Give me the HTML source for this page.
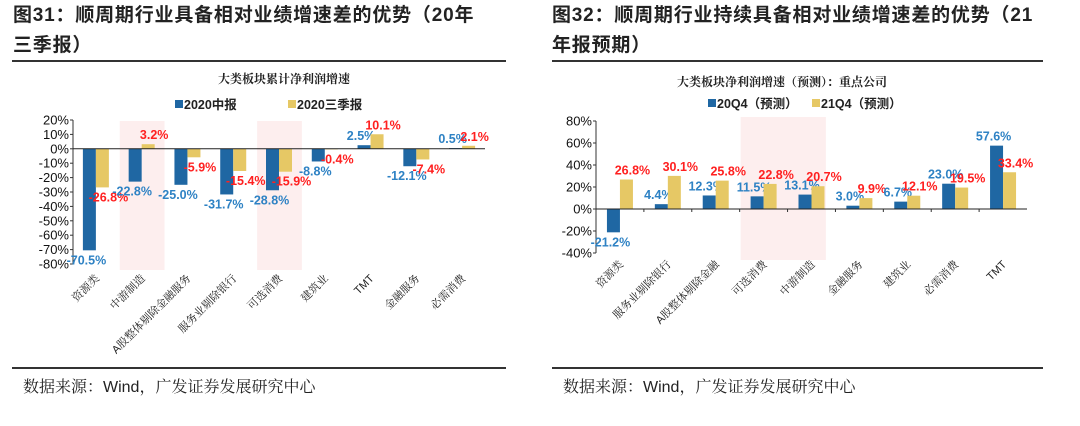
<!DOCTYPE html>
<html><head><meta charset="utf-8"><style>
body{margin:0;width:1080px;height:426px;background:#fff;overflow:hidden;font-family:"Liberation Sans","Noto Sans CJK SC",sans-serif;}
.t{position:absolute;font-weight:bold;font-size:19px;line-height:30px;color:#222;letter-spacing:0.8px;}
.src{position:absolute;font-size:16px;color:#222;font-family:"Liberation Sans","Noto Serif CJK SC",serif;}
.ln{position:absolute;height:2px;background:#333;}
</style></head><body>
<div class="t" style="left:13px;top:1px;width:495px">图31：顺周期行业具备相对业绩增速差的优势（20年<br>三季报）</div>
<div class="t" style="left:552px;top:1px;width:495px">图32：顺周期行业持续具备相对业绩增速差的优势（21<br>年报预期）</div>
<div class="ln" style="left:12px;top:60px;width:494px"></div>
<div class="ln" style="left:552px;top:60px;width:491px"></div>
<div class="ln" style="left:12px;top:367px;width:494px"></div>
<div class="ln" style="left:552px;top:367px;width:491px"></div>
<div class="src" style="left:23px;top:374px">数据来源：Wind，广发证券发展研究中心</div>
<div class="src" style="left:563px;top:374px">数据来源：Wind，广发证券发展研究中心</div>
<svg id="s" width="1080" height="426" style="position:absolute;left:0;top:0"></svg>
<script>
const catsL=["资源类","中游制造","A股整体剔除金融服务","服务业剔除银行","可选消费","建筑业","TMT","金融服务","必需消费"];
const blueL=[-70.5,-22.8,-25.0,-31.7,-28.8,-8.8,2.5,-12.1,0.5];
const yellowL=[-26.8,3.2,-5.9,-15.4,-15.9,-0.4,10.1,-7.4,2.1];
const ticksL=[20,10,0,-10,-20,-30,-40,-50,-60,-70,-80];
const catsR=["资源类","服务业剔除银行","A股整体剔除金融","可选消费","中游制造","金融服务","建筑业","必需消费","TMT"];
const blueR=[-21.2,4.4,12.3,11.5,13.1,3.0,6.7,23.0,57.6];
const yellowR=[26.8,30.1,25.8,22.8,20.7,9.9,12.1,19.5,33.4];
const ticksR=[80,60,40,20,0,-20,-40];
const S=document.getElementById('s');const NS="http://www.w3.org/2000/svg";
function mk(t,a,txt){const e=document.createElementNS(NS,t);for(const k in a)e.setAttribute(k,a[k]);if(txt!==undefined)e.textContent=txt;S.appendChild(e);return e;}
function chart(o){
 const y=v=>o.y0+(o.top-v)*(o.y1-o.y0)/(o.top-o.bot);
 const n=o.cats.length,cw=(o.xr-o.xl)/n;
 o.hl.forEach(h=>{const r=mk('rect',{x:o.xl+h[0]*cw+1,y:o.hy0,width:cw*h[1]-1,height:o.hy1-o.hy0,fill:'#fdeeee'});
 });
 const tt=mk('text',{x:o.tx,y:o.ty,'font-size':12,'font-weight':'bold','text-anchor':'middle',fill:'#222','font-family':'"Noto Serif CJK SC",serif'},o.title);
 
 o.legend.forEach((l,i)=>{const g=mk('rect',{x:l[0],y:o.ly-9,width:8,height:8,fill:i?'#e6c865':'#1f67a3'});
 
 const t=mk('text',{x:l[0]+9,y:o.ly,'font-size':12.5,'font-weight':'bold',fill:'#222'},l[1]);
 });
 o.ticks.forEach(v=>{const t=mk('text',{x:o.xl-4,y:y(v)+4.5,'font-size':13,'text-anchor':'end',fill:'#111'},v+'%');
 
 mk('line',{x1:o.xl-3,x2:o.xl,y1:y(v),y2:y(v),stroke:'#333'});});
 mk('line',{x1:o.xl,x2:o.xl,y1:y(o.top),y2:y(o.bot),stroke:'#333'});
 const bw=13;
 o.cats.forEach((c,i)=>{const cx=o.xl+(i+0.5)*cw;
  [[o.b[i],cx-bw,'#1f67a3','#2e82c4'],[o.yv[i],cx,'#e6c865','#ff2020']].forEach((s,j)=>{
   const v=s[0],y0=y(0),yv=y(v);
   const r=mk('rect',{x:s[1],y:Math.min(y0,yv),width:bw,height:Math.abs(yv-y0),fill:s[2]});
   
   const ly=v>=0?yv-5:yv+14;
   const t=mk('text',{x:s[1]+bw/2+(j?6:-3),y:ly,'font-size':12.5,'font-weight':'bold','text-anchor':'middle',fill:s[3]},v.toFixed(1)+'%');
   });
  const lx=cx+4,lyy=o.labY;
  const t=mk('text',{x:lx,y:lyy,'font-size':11,'text-anchor':'end',fill:'#222',transform:`rotate(-45 ${lx} ${lyy})`,'font-family':'"Liberation Sans","Noto Serif CJK SC",serif'},c);
  
  if(o.xt)mk('line',{x1:o.xl+i*cw,x2:o.xl+i*cw,y1:y(0),y2:y(0)+3,stroke:'#333'});
 });
 mk('line',{x1:o.xl,x2:o.xr,y1:y(0),y2:y(0),stroke:'#222'});
}
chart({cats:catsL,b:blueL,yv:yellowL,ticks:ticksL,top:20,bot:-80,y0:120,y1:264,xl:73,xr:485,hl:[[1,1],[4,1]],hy0:121,hy1:270,
 title:'大类板块累计净利润增速',tx:284,ty:83,ly:109,legend:[[175,'2020中报'],[288,'2020三季报']],labY:279,xt:false});
chart({cats:catsR,b:blueR,yv:yellowR,ticks:ticksR,top:80,bot:-40,y0:121,y1:253,xl:596,xr:1027,hl:[[3,1.8]],hy0:117,hy1:260,
 title:'大类板块净利润增速（预测）：重点公司',tx:782,ty:86,ly:108,legend:[[708,'20Q4（预测）'],[812,'21Q4（预测）']],labY:265,xt:true});
</script>
</body></html>
